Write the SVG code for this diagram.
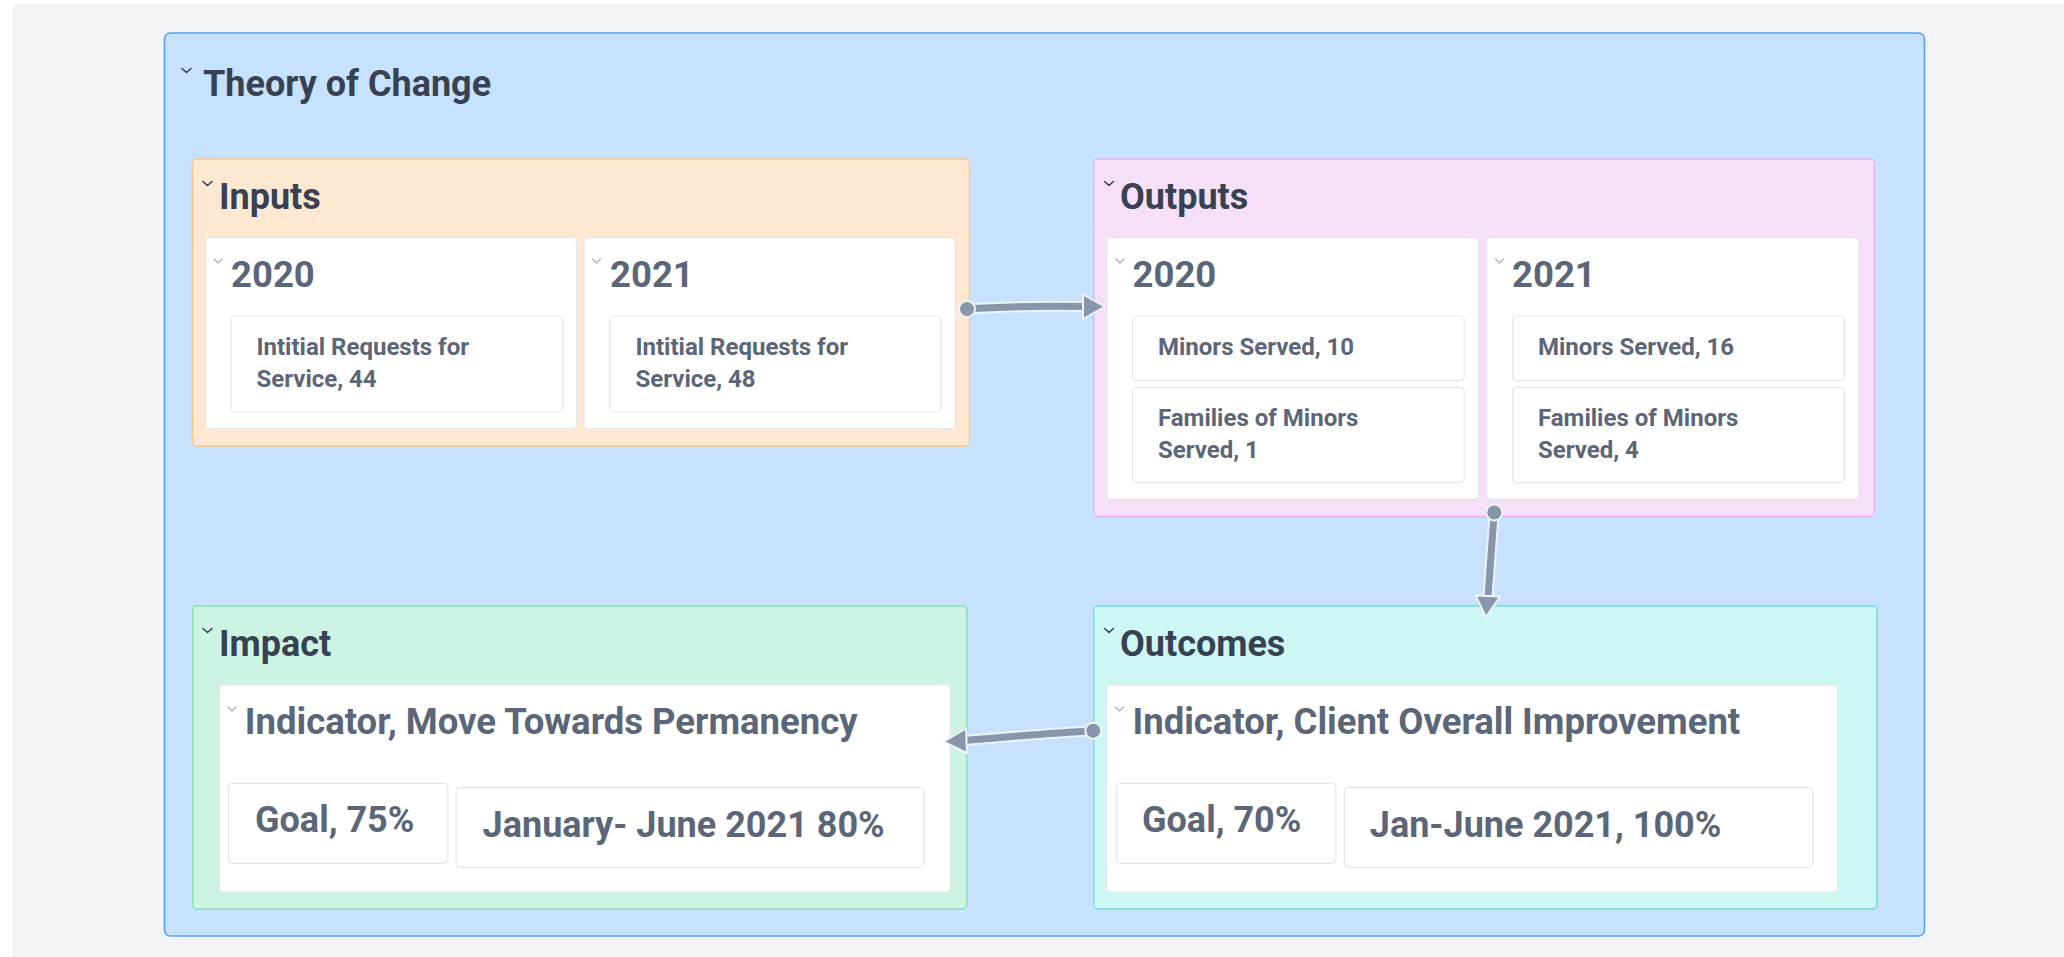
<svg xmlns="http://www.w3.org/2000/svg" width="2064" height="957" viewBox="0 0 2064 957">
<style>
text{font-family:Roboto,"Liberation Sans",sans-serif;font-weight:700}
.title{font-size:36px;fill:#374151}
.sec{font-size:36px;fill:#374151}
.hd{font-size:36.5px;fill:#5b6678}
.ind{font-size:36.5px;fill:#5b6678}
.item{font-size:24px;fill:#5b6678}
.val{font-size:36px;fill:#5b6678}
.card{fill:#ffffff;stroke:#e3e5ee;stroke-width:1.2}
.chev{fill:none;stroke:#374151;stroke-width:1.6;stroke-linecap:round;stroke-linejoin:round}
.chevl{fill:none;stroke:#aab4c4;stroke-width:1.4;stroke-linecap:round;stroke-linejoin:round}
.halo{fill:none;stroke:#eef3f9;stroke-width:11;stroke-linecap:round}
.line{fill:none;stroke:#8796aa;stroke-width:7;stroke-linecap:round}
.head{fill:#8796aa;stroke:#eef3f9;stroke-width:2;stroke-linejoin:round}
.dot{fill:#8796aa;stroke:#eef3f9;stroke-width:2}
</style>
<rect x="0" y="0" width="2064" height="957" fill="#ffffff"/>
<rect x="13" y="4" width="2051" height="953" fill="#f2f3f7"/>

<g id="theory-of-change">
<rect x="164.5" y="33" width="1760" height="903" rx="6" fill="#c7e2fe" stroke="#58a2f1" stroke-width="1.6"/>
<polyline class="chev" points="182,68.5 186.5,72.5 191,68.5"/>
<text class="title" x="203" y="96">Theory of Change</text>
</g>

<g id="inputs">
<rect x="192.5" y="159" width="777" height="287" rx="4" fill="#fee8d1" stroke="#f6c98e" stroke-width="1.4"/>
<polyline class="chev" points="203,181.5 207.5,185.5 212,181.5"/>
<text class="sec" x="219" y="209">Inputs</text>
<g id="inputs-2020">
<rect class="card" x="205.5" y="237.5" width="371" height="191" rx="4"/>
<polyline class="chevl" points="214,259 218,263 222,259"/>
<text class="hd" x="231" y="287">2020</text>
<rect class="card" x="231" y="316" width="332" height="96" rx="4"/>
<text class="item" x="256.5" y="355">Intitial Requests for</text>
<text class="item" x="256.5" y="386.5">Service, 44</text>
</g>
<g id="inputs-2021">
<rect class="card" x="584" y="237.5" width="371.5" height="191" rx="4"/>
<polyline class="chevl" points="592.5,259 596.5,263 600.5,259"/>
<text class="hd" x="610" y="287">2021</text>
<rect class="card" x="610" y="316" width="331" height="96" rx="4"/>
<text class="item" x="635.5" y="355">Intitial Requests for</text>
<text class="item" x="635.5" y="386.5">Service, 48</text>
</g>
</g>

<g id="outputs">
<rect x="1093.8" y="159" width="780.6" height="357.5" rx="4" fill="#f5e0f8" stroke="#e2b3ef" stroke-width="1.4"/>
<polyline class="chev" points="1104.5,181.5 1109,185.5 1113.5,181.5"/>
<text class="sec" x="1120" y="209">Outputs</text>
<g id="outputs-2020">
<rect class="card" x="1107" y="237.5" width="371.5" height="261.8" rx="4"/>
<polyline class="chevl" points="1116,259 1120,263 1124,259"/>
<text class="hd" x="1132.5" y="287">2020</text>
<rect class="card" x="1132.5" y="316" width="331.7" height="64.7" rx="4"/>
<text class="item" x="1158" y="354.5">Minors Served, 10</text>
<rect class="card" x="1132.5" y="387.3" width="331.7" height="95.4" rx="4"/>
<text class="item" x="1158" y="426">Families of Minors</text>
<text class="item" x="1158" y="457.5">Served, 1</text>
</g>
<g id="outputs-2021">
<rect class="card" x="1486.6" y="237.5" width="372.4" height="261.8" rx="4"/>
<polyline class="chevl" points="1495.5,259 1499.5,263 1503.5,259"/>
<text class="hd" x="1512" y="287">2021</text>
<rect class="card" x="1512.7" y="316" width="331.6" height="64.7" rx="4"/>
<text class="item" x="1538" y="354.5">Minors Served, 16</text>
<rect class="card" x="1512.7" y="387.3" width="331.6" height="95.4" rx="4"/>
<text class="item" x="1538" y="426">Families of Minors</text>
<text class="item" x="1538" y="457.5">Served, 4</text>
</g>
</g>

<g id="impact">
<rect x="192.8" y="606" width="774" height="303" rx="4" fill="#cdf4e2" stroke="#86e0b2" stroke-width="1.4"/>
<polyline class="chev" points="203,628.5 207.5,632.5 212,628.5"/>
<text class="sec" x="219" y="656">Impact</text>
<g id="impact-indicator">
<rect class="card" x="219.3" y="685" width="731" height="207" rx="4"/>
<polyline class="chevl" points="228,707 232,711 236,707"/>
<text class="ind" x="244.8" y="734.3">Indicator, Move Towards Permanency</text>
<rect class="card" x="228.5" y="783.3" width="219.4" height="80" rx="4"/>
<text class="val" x="255" y="831.7">Goal, 75%</text>
<rect class="card" x="456" y="787.7" width="468" height="79.6" rx="4"/>
<text class="val" x="482.6" y="836.7">January- June 2021 80%</text>
</g>
</g>

<g id="outcomes">
<rect x="1093.8" y="606" width="783.2" height="303" rx="4" fill="#ccf7f3" stroke="#6fdfd2" stroke-width="1.4"/>
<polyline class="chev" points="1104.5,628.5 1109,632.5 1113.5,628.5"/>
<text class="sec" x="1120" y="656">Outcomes</text>
<g id="outcomes-indicator">
<rect class="card" x="1106.5" y="685" width="731" height="207" rx="4"/>
<polyline class="chevl" points="1115.5,707 1119.5,711 1123.5,707"/>
<text class="ind" x="1132.5" y="734.3">Indicator, Client Overall Improvement</text>
<rect class="card" x="1116.7" y="783.3" width="219.3" height="80" rx="4"/>
<text class="val" x="1142" y="831.7">Goal, 70%</text>
<rect class="card" x="1344.3" y="787.7" width="468.4" height="79.6" rx="4"/>
<text class="val" x="1369.8" y="836.7">Jan-June 2021, 100%</text>
</g>
</g>

<g id="connectors">
<g id="inputs-to-outputs">
<path class="halo" d="M967,309 C1010,306 1050,306 1085,306.6"/>
<path class="line" d="M967,309 C1010,306 1050,306 1085,306.6"/>
<polygon class="head" points="1105,306.7 1083,294.5 1083,319"/>
<circle class="dot" cx="967" cy="309" r="8"/>
</g>
<g id="outputs-to-outcomes">
<path class="halo" d="M1494.3,512.5 C1492,540 1490,570 1488,597"/>
<path class="line" d="M1494.3,512.5 C1492,540 1490,570 1488,597"/>
<polygon class="head" points="1486,617 1475.5,595.5 1500,596.5"/>
<circle class="dot" cx="1494.3" cy="512.5" r="8"/>
</g>
<g id="outcomes-to-impact">
<path class="halo" d="M1093.3,730.7 C1050,733 1005,737 965,740.5"/>
<path class="line" d="M1093.3,730.7 C1050,733 1005,737 965,740.5"/>
<polygon class="head" points="943.5,741.7 966,728.5 967,753"/>
<circle class="dot" cx="1093.3" cy="730.7" r="8"/>
</g>
</g>
</svg>
